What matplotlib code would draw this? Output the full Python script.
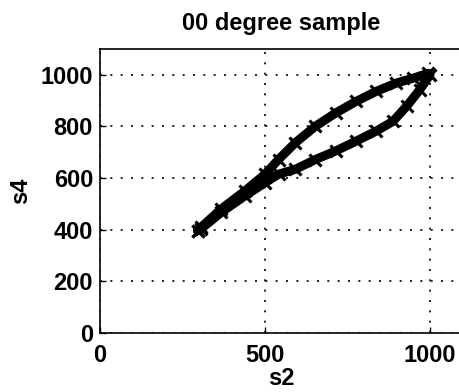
import matplotlib
matplotlib.use('Agg')
import matplotlib.pyplot as plt

# hysteresis loop (s2 vs s4)
up_s2 = [296, 306, 367, 439, 500, 541, 592, 653, 714, 776, 837, 898, 949, 995]
up_s4 = [396, 409, 480, 550, 615, 672, 737, 801, 852, 897, 936, 968, 987, 1006]
down_s2 = [1000, 969, 929, 888, 837, 776, 714, 653, 592, 541, 500, 439, 367, 306, 296]
down_s4 = [1000, 942, 878, 820, 782, 743, 705, 672, 634, 615, 582, 531, 467, 403, 396]

x_ticks = [0, 500, 1000]
y_ticks = [0, 200, 400, 600, 800, 1000]

plt.rcParams['font.family'] = ['Liberation Sans', 'DejaVu Sans']
plt.rcParams['font.weight'] = 'bold'

fig = plt.figure(figsize=(4.59, 3.92), dpi=100)
ax = fig.add_axes([100 / 459, 59 / 392, 363 / 459, 284 / 392])

s2 = up_s2 + down_s2
s4 = up_s4 + down_s4
ax.plot(s2, s4, '-', color='black', linewidth=6.5, solid_joinstyle='round',
        solid_capstyle='round')
ax.plot(s2, s4, 'x', color='black', markersize=8, markeredgewidth=2.2)

ax.set_xlim(0, 1100)
ax.set_ylim(0, 1100)
ax.set_xticks(x_ticks)
ax.set_yticks(y_ticks)
ax.grid(True, color='black', linestyle=(0, (1.2, 5)), linewidth=1.2)
ax.tick_params(direction='in', length=4, width=1, labelsize=17)
ax.tick_params(axis='y', pad=5)
ax.tick_params(axis='x', pad=8)
for sp in ax.spines.values():
    sp.set_linewidth(1.2)
ax.spines['right'].set_visible(False)

ax.set_title('00 degree sample', fontsize=17, fontweight='bold', pad=14)
ax.set_xlabel('s2', fontsize=17, fontweight='bold', labelpad=0)
ax.set_ylabel('s4', fontsize=17, fontweight='bold', labelpad=6)

fig.savefig('out.png', dpi=100)
